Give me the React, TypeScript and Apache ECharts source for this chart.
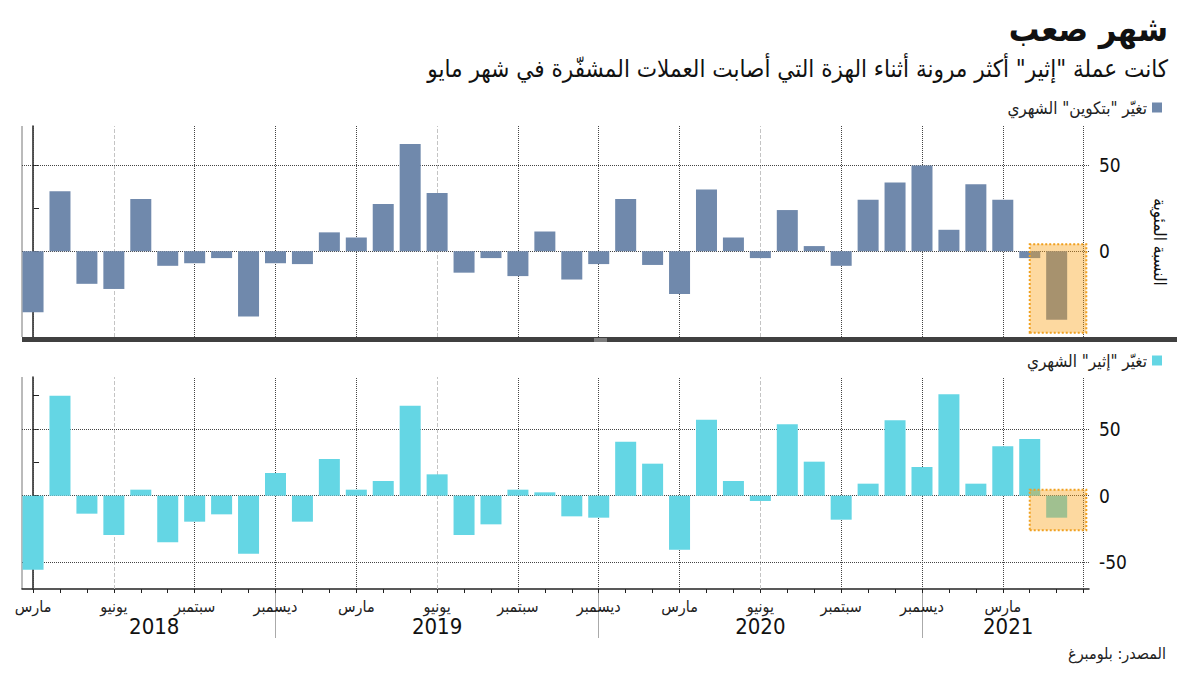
import React, { useEffect, useRef } from "react";
import * as echarts from "echarts";

// Month index 0 = March 2018 ... 38 = May 2021
const btcChange = [-35.5, 35, -19, -22, 30.5, -8.5, -7, -4, -38, -7, -7.5, 11, 8, 27.5, 62.5, 34, -12.5, -4, -14.5, 11.5, -16.5, -7.5, 30.5, -8, -25, 36, 8, -4, 24, 3, -8.5, 30, 40, 50, 12.5, 39, 30, -4, -40];
const ethChange = [-55.5, 75, -13.5, -29.5, 4.5, -35, -19.5, -14, -43.5, 17, -19.5, 27.5, 4.5, 11, 67.5, 16, -29.5, -21.5, 4.5, 2.5, -15.5, -16.5, 40.5, 24, -40.5, 57, 11, -4, 53.5, 25.5, -18, 9, 56.5, 21.5, 76, 9, 37, 42.5, -16.5];

const monthTickIndex = [0, 3, 6, 9, 12, 15, 18, 21, 24, 27, 30, 33, 36];
const monthTickLabels = ["مارس", "يونيو", "سبتمبر", "ديسمبر", "مارس", "يونيو", "سبتمبر", "ديسمبر", "مارس", "يونيو", "سبتمبر", "ديسمبر", "مارس"];
const years = ["2018", "2019", "2020", "2021"];
const yearLabelIndex = [4.5, 15, 27, 36.2];
const yearSeparatorIndex = [9, 21, 33];

const btcName = 'تغيّر "بتكوين" الشهري';
const ethName = 'تغيّر "إثير" الشهري';
const titleText = "شهر صعب";
const subtitleText = 'كانت عملة "إثير" أكثر مرونة أثناء الهزة التي أصابت العملات المشفّرة في شهر مايو';
const sourceText = "المصدر: بلومبرغ";
const yAxisName = "النسبة المئوية";

const topTicks = [-50, -25, 0, 25, 50];
const topLabels = [0, 50];
const bottomTicks = [-50, -25, 0, 25, 50, 75];
const bottomLabels = [-50, 0, 50];

const FONT = "'DejaVu Sans Condensed', 'DejaVu Sans', sans-serif";
const X_MIN = -0.41;
const X_MAX = 39.2;
const BTC_COLOR = "#7089AC";
const ETH_COLOR = "#64D6E4";
const GRID_DARK = "#444";
const GRID_LIGHT = "#c4c4c4";
const lightGridIdx = [3, 15, 27];

function verticalGrid() {
  const arr: any[] = [];
  for (let i = 0; i <= 39; i += 3) {
    const light = lightGridIdx.indexOf(i) >= 0;
    arr.push({
      xAxis: i,
      lineStyle: { color: light ? GRID_LIGHT : GRID_DARK, type: light ? "dashed" : "dotted", width: 1 },
    });
  }
  return arr;
}

function hGrid(values: number[]) {
  return values.map((v) => ({ yAxis: v, lineStyle: { color: GRID_DARK, type: "dotted", width: 1 } }));
}

const highlightStyle = {
  color: "rgba(250,160,17,0.4)",
  borderColor: "#F0A020",
  borderWidth: 2,
  borderType: "dotted",
};

export default function App() {
  const ref = useRef<HTMLDivElement>(null);
  useEffect(() => {
    if (!ref.current) return;
    const chart = echarts.init(ref.current, null, { renderer: "svg" });
    const allTicks: number[] = [];
    for (let i = 0; i <= 39; i++) allTicks.push(i);

    const option: any = {
      animation: false,
      backgroundColor: "#fff",
      textStyle: { fontFamily: FONT },
      legend: [
        {
          data: [btcName],
          right: 33,
          top: 94,
          align: "right",
          icon: "rect",
          itemWidth: 10,
          itemHeight: 10,
          textStyle: { fontSize: 17, color: "#222", fontFamily: FONT },
        },
        {
          data: [ethName],
          right: 33,
          top: 347,
          align: "right",
          icon: "rect",
          itemWidth: 10,
          itemHeight: 10,
          textStyle: { fontSize: 17, color: "#222", fontFamily: FONT },
        },
      ],
      grid: [
        { left: 22, right: 111, top: 126, height: 211 },
        { left: 22, right: 111, top: 377, height: 212 },
      ],
      xAxis: [
        {
          type: "value",
          gridIndex: 0,
          min: X_MIN,
          max: X_MAX,
          axisLine: { show: false },
          axisTick: { show: false },
          axisLabel: { show: false },
          splitLine: { show: false },
        },
        {
          type: "value",
          gridIndex: 1,
          min: X_MIN,
          max: X_MAX,
          axisLine: { show: true, onZero: false, lineStyle: { color: "#222", width: 1.5 } },
          axisTick: { show: true, customValues: allTicks, length: 4, lineStyle: { color: "#222" } },
          axisLabel: {
            show: true,
            customValues: monthTickIndex,
            formatter: (v: number) => monthTickLabels[monthTickIndex.indexOf(Math.round(v))] || "",
            fontSize: 16,
            color: "#222",
            margin: 9,
            fontFamily: FONT,
          },
          splitLine: { show: false },
        },
        {
          type: "value",
          gridIndex: 1,
          min: X_MIN,
          max: X_MAX,
          position: "bottom",
          offset: 4,
          axisLine: { show: false, onZero: false },
          axisTick: { show: true, customValues: yearSeparatorIndex, length: 45, lineStyle: { color: "#aaa" } },
          axisLabel: {
            show: true,
            customValues: yearLabelIndex,
            formatter: (v: number) => {
              let best = 0;
              for (let k = 0; k < yearLabelIndex.length; k++) {
                if (Math.abs(yearLabelIndex[k] - v) < Math.abs(yearLabelIndex[best] - v)) best = k;
              }
              return years[best];
            },
            fontSize: 22,
            color: "#111",
            margin: 22,
            fontFamily: FONT,
          },
          splitLine: { show: false },
        },
      ],
      yAxis: [
        {
          type: "value",
          gridIndex: 0,
          position: "right",
          min: -50,
          max: 73,
          axisLine: { show: true, lineStyle: { color: "#222", width: 1.5 } },
          axisTick: { show: true, customValues: topTicks, length: 6, lineStyle: { color: "#222" } },
          axisLabel: { customValues: topLabels, fontSize: 19, color: "#111", margin: 10, fontFamily: FONT },
          splitLine: { show: false },
        },
        {
          type: "value",
          gridIndex: 1,
          position: "right",
          min: -70,
          max: 89,
          axisLine: { show: true, lineStyle: { color: "#222", width: 1.5 } },
          axisTick: { show: true, customValues: bottomTicks, length: 6, lineStyle: { color: "#222" } },
          axisLabel: { customValues: bottomLabels, fontSize: 19, color: "#111", margin: 10, fontFamily: FONT },
          splitLine: { show: false },
        },
      ],
      series: [
        {
          name: btcName,
          type: "bar",
          xAxisIndex: 0,
          yAxisIndex: 0,
          barWidth: 21,
          z: 2,
          itemStyle: { color: BTC_COLOR },
          data: btcChange.map((v, i) => [i, v]),
          markLine: {
            silent: true,
            z: 1,
            symbol: ["none", "none"],
            label: { show: false },
            data: [...verticalGrid(), ...hGrid([50, 0])],
          },
          markArea: {
            silent: true,
            z: 10,
            itemStyle: highlightStyle,
            label: { show: false },
            data: [[{ xAxis: btcChange.length - 2, yAxis: 4 }, { xAxis: btcChange.length + 0.1, yAxis: -47.5 }]],
          },
        },
        {
          name: ethName,
          type: "bar",
          xAxisIndex: 1,
          yAxisIndex: 1,
          barWidth: 21,
          z: 2,
          itemStyle: { color: ETH_COLOR },
          data: ethChange.map((v, i) => [i, v]),
          markLine: {
            silent: true,
            z: 1,
            symbol: ["none", "none"],
            label: { show: false },
            data: [...verticalGrid(), ...hGrid([50, 0, -50])],
          },
          markArea: {
            silent: true,
            z: 10,
            itemStyle: highlightStyle,
            label: { show: false },
            data: [[{ xAxis: ethChange.length - 2, yAxis: 4.5 }, { xAxis: ethChange.length + 0.1, yAxis: -26 }]],
          },
        },
      ],
      graphic: [
        {
          type: "text",
          right: 32,
          top: 12,
          style: { text: titleText, font: `bold 34px ${FONT}`, fill: "#111", textAlign: "right" },
        },
        {
          type: "text",
          right: 32,
          top: 57,
          style: { text: subtitleText, font: `24px ${FONT}`, fill: "#111", textAlign: "right" },
        },
        {
          type: "text",
          x: 1160,
          y: 242,
          rotation: -Math.PI / 2,
          style: { text: yAxisName, font: `17px ${FONT}`, fill: "#111", textAlign: "center", textVerticalAlign: "middle" },
        },
        {
          type: "rect",
          shape: { x: 22, y: 337, width: 1155, height: 5 },
          style: { fill: "#404040" },
          z: 20,
        },
        {
          type: "line",
          shape: { x1: 594, y1: 339, x2: 607, y2: 339 },
          style: { stroke: "#bbb", lineWidth: 1 },
          z: 21,
        },
        {
          type: "line",
          shape: { x1: 594, y1: 341, x2: 607, y2: 341 },
          style: { stroke: "#bbb", lineWidth: 1 },
          z: 21,
        },
        {
          type: "line",
          shape: { x1: 22, y1: 126, x2: 22, y2: 337 },
          style: { stroke: "#777", lineWidth: 1 },
        },
        {
          type: "line",
          shape: { x1: 22, y1: 377, x2: 22, y2: 589 },
          style: { stroke: "#777", lineWidth: 1 },
        },
        {
          type: "text",
          right: 34,
          top: 645,
          style: { text: sourceText, font: `16px ${FONT}`, fill: "#222", textAlign: "right" },
        },
      ],
    };
    chart.setOption(option);
    return () => chart.dispose();
  }, []);
  return <div ref={ref} style={{ position: "fixed", left: 0, top: 0, width: 1200, height: 675, background: "#fff" }} />;
}
